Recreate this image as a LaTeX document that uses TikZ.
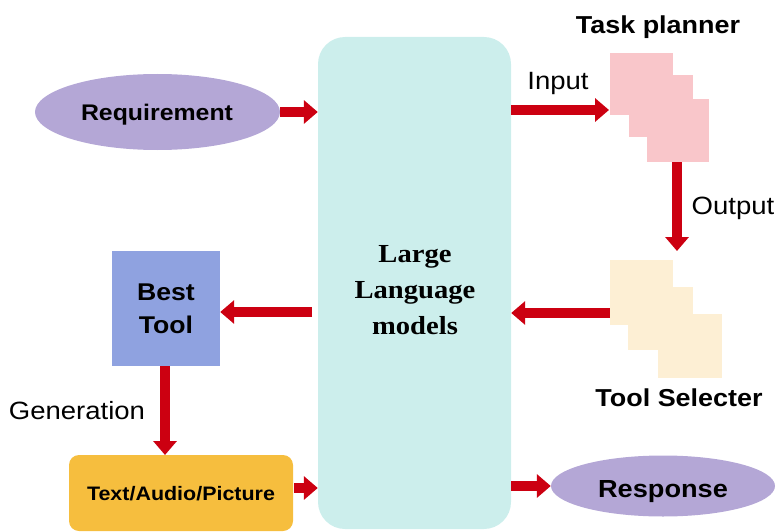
\documentclass[tikz,border=0pt]{standalone}
\usepackage{fontspec}
\setmainfont{Liberation Sans}[FakeStretch=1.1]
\newfontfamily\llmfont{Liberation Serif}[FakeStretch=1.1]
\usetikzlibrary{arrows.meta,shapes.geometric}
\definecolor{llmcyan}{HTML}{CCEEEC}
\definecolor{ellpurple}{HTML}{B4A7D6}
\definecolor{tppink}{HTML}{F9C6CA}
\definecolor{tsbeige}{HTML}{FDEFD4}
\definecolor{bestblue}{HTML}{8FA2E0}
\definecolor{taporange}{HTML}{F6BE3E}
\definecolor{arrowred}{HTML}{CC0011}
\tikzset{
  bigarrow/.style={draw=arrowred, line width=9.5pt, -{Triangle[length=14pt,width=23pt]}},
  sq/.style={rectangle, inner sep=0pt, draw=none},
  ell/.style={ellipse, fill=ellpurple, draw=none, inner sep=0pt},
  lbl/.style={font=\fontsize{25}{30}\selectfont, inner sep=0pt},
  blbl/.style={font=\fontsize{24.5}{30}\selectfont\bfseries, inner sep=0pt}
}
\begin{document}
\begin{tikzpicture}[x=1pt,y=-1pt]
\useasboundingbox (0,0) rectangle (776,532);
% LLM
\path[fill=llmcyan, rounded corners=27pt] (318,37) rectangle (511,529);
\node[inner sep=0pt] (llmbox) at (414.5,283) [minimum width=193pt, minimum height=492pt] {};
\node[align=center, font=\llmfont\bfseries\fontsize{26}{36}\selectfont] (llm) at (415,290) {Large\\Language\\models};
% Requirement
\node[ell, minimum width=245pt, minimum height=76pt] (req) at (157.5,112) {};
\node[anchor=base, inner sep=0pt, font=\fontsize{22.6}{26}\selectfont\bfseries] (reqtxt) at (157,121) {Requirement};
% Task planner squares
\node[sq, fill=tppink, minimum width=63pt, minimum height=62pt] (tp1) at (641.5,84) {};
\node[sq, fill=tppink, minimum width=64pt, minimum height=62pt] (tp2) at (661,106) {};
\node[sq, fill=tppink, minimum width=62pt, minimum height=63pt] (tp3) at (678,130.5) {};
\node[blbl] (tptitle) at (658,27) {Task planner};
% Tool selecter squares
\node[sq, fill=tsbeige, minimum width=63pt, minimum height=65pt] (ts1) at (641.5,292.5) {};
\node[sq, fill=tsbeige, minimum width=65pt, minimum height=63pt] (ts2) at (660.5,318.5) {};
\node[sq, fill=tsbeige, minimum width=64pt, minimum height=64pt] (ts3) at (690,346) {};
\node[blbl] (tstitle) at (679,398) {Tool Selecter};
% Best tool
\node[sq, fill=bestblue, minimum width=108pt, minimum height=115pt, align=center, font=\fontsize{24.2}{33}\selectfont\bfseries] (best) at (166,308.5) {Best\\Tool};
% Text/Audio/Picture
\path[fill=taporange, rounded corners=10pt] (69,455) rectangle (293,531);
\node[inner sep=0pt, font=\fontsize{19.5}{24}\selectfont\bfseries] (tap) at (181,494) {Text/Audio/Picture};
\coordinate (tapE) at (294,488);
\coordinate (tapN) at (165,455);
% Response
\node[ell, minimum width=224pt, minimum height=61pt] (resp) at (663,486) {};
\node[anchor=base, inner sep=0pt, font=\fontsize{24.7}{28}\selectfont\bfseries] (resptxt) at (663,497) {Response};
% labels
\node[lbl] (inlbl) at (558,83) {Input};
\node[lbl] (outlbl) at (733,208) {Output};
\node[lbl] (genlbl) at (77,411) {Generation};
% connectors
\draw[bigarrow] (req.east) -- (req.east -| llmbox.west);
\draw[bigarrow] (llmbox.east |- 0,110) -- (609,110);
\coordinate (outend) at (677,251);
\draw[bigarrow] (tp3.south -| outend) -- (outend);
\draw[bigarrow] (ts1.west |- 0,313) -- (llmbox.east |- 0,313);
\draw[bigarrow] (312,312) -- (best.east |- 0,312);
\draw[bigarrow] (best.south -| tapN) -- (tapN);
\draw[bigarrow] (tapE) -- (llmbox.west |- tapE);
\draw[bigarrow] (llmbox.east |- 0,486) -- (resp.west);
\end{tikzpicture}
\end{document}
